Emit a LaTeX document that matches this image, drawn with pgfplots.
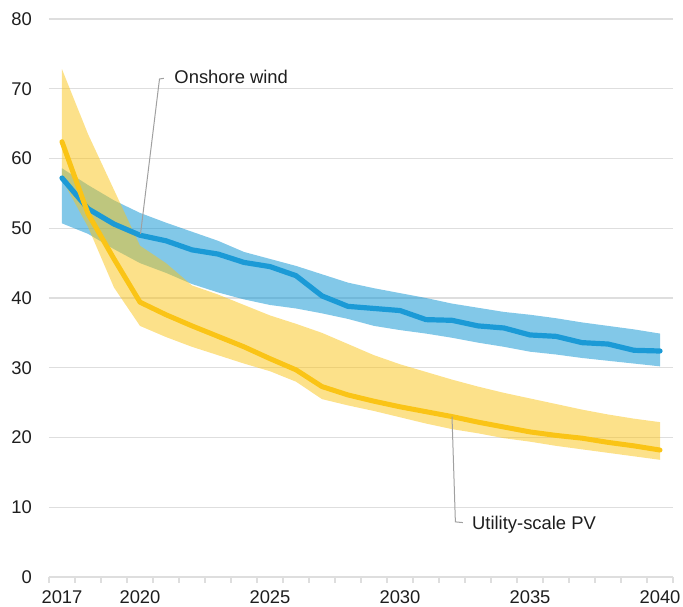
\documentclass[border=0pt]{standalone}
\usepackage{fontspec}
\setmainfont{Liberation Sans}
\usepackage{pgfplots}
\usepackage{pgfplotstable}
\pgfplotsset{compat=1.18}
\usepgfplotslibrary{fillbetween}

\definecolor{windblue}{RGB}{27,154,214}
\definecolor{pvyellow}{RGB}{250,196,22}
\definecolor{gridgray}{RGB}{222,222,222}
\definecolor{pointgray}{RGB}{160,160,160}
\definecolor{txt}{RGB}{30,30,30}

% LCOE ranges, onshore wind and utility-scale PV
\pgfplotstableread{
year wind windlo windhi pv   pvlo pvhi
2017 57.2 50.7   58.6   62.4 57.0 72.8
2018 52.8 49.2   56.2   52.1 50.2 63.5
2019 50.6 47.0   54.0   45.6 41.5 55.5
2020 49.0 45.0   52.2   39.4 36.0 47.5
2021 48.2 43.6   50.8   37.6 34.4 45.0
2022 46.9 42.0   49.5   36.0 33.0 41.8
2023 46.3 40.8   48.2   34.5 31.8 40.5
2024 45.1 39.8   46.6   33.0 30.6 39.0
2025 44.5 39.0   45.6   31.3 29.5 37.5
2026 43.2 38.5   44.6   29.7 28.0 36.3
2027 40.3 37.8   43.4   27.3 25.5 35.0
2028 38.8 37.0   42.2   26.1 24.6 33.4
2029 38.5 36.0   41.4   25.2 23.8 31.8
2030 38.2 35.4   40.7   24.4 22.9 30.5
2031 36.9 34.9   40.0   23.7 22.0 29.4
2032 36.8 34.3   39.2   23.0 21.2 28.3
2033 36.0 33.6   38.6   22.2 20.6 27.3
2034 35.7 33.0   38.0   21.5 19.9 26.4
2035 34.7 32.3   37.6   20.8 19.4 25.6
2036 34.5 31.9   37.1   20.3 18.8 24.8
2037 33.6 31.4   36.5   19.9 18.3 24.0
2038 33.4 31.0   36.0   19.3 17.8 23.3
2039 32.5 30.6   35.5   18.8 17.3 22.7
2040 32.4 30.2   34.9   18.2 16.8 22.2
}\lcoe

\begin{document}
\begin{tikzpicture}
\begin{axis}[
    scale only axis,
    width=312pt, height=279pt,
    xmin=2016.5, xmax=2040.5,
    ymin=0, ymax=80,
    axis x line*=bottom,
    axis y line*=left,
    y axis line style={draw=none},
    x axis line style={draw=gridgray, line width=0.6pt},
    xtick={2017,2020,2025,2030,2035,2040},
    xticklabels={2017,2020,2025,2030,2035,2040},
    minor xtick={2016.5,2017.5,...,2040.5},
    tick align=outside,
    major tick length=0pt,
    minor tick length=3pt,
    minor x tick style={gridgray, line width=0.6pt},
    ytick={0,10,...,80},
    ytick style={draw=none},
    ymajorgrids=true,
    grid style={gridgray, line width=0.6pt},
    tick label style={font=\fontsize{9.2}{11}\selectfont, text=txt},
    /pgf/number format/assume math mode=true,
    xticklabel style={yshift=-3.3pt},
    yticklabel style={xshift=-5pt},
]

% ranges
\addplot[draw=none, name path=whi] table[x=year, y=windhi] {\lcoe};
\addplot[draw=none, name path=wlo] table[x=year, y=windlo] {\lcoe};
\addplot[fill=windblue, fill opacity=0.55, draw=none] fill between[of=whi and wlo];

\addplot[draw=none, name path=phi] table[x=year, y=pvhi] {\lcoe};
\addplot[draw=none, name path=plo] table[x=year, y=pvlo] {\lcoe};
\addplot[fill=pvyellow, fill opacity=0.5, draw=none] fill between[of=phi and plo];

% central estimates
\addplot[windblue, line width=2.6pt, line join=round, line cap=round] table[x=year, y=wind] {\lcoe};
\addplot[pvyellow, line width=2.5pt, line join=round, line cap=round] table[x=year, y=pv] {\lcoe};

% labels
\draw[pointgray, line width=0.5pt] (axis cs:2020.92,71.5) -- (axis cs:2020.75,71.4) -- (axis cs:2020.02,49.2);
\node[anchor=west, inner sep=0pt, text=txt, font=\fontsize{9.2}{11}\selectfont] at (axis cs:2021.31,71.7) {Onshore wind};
\draw[pointgray, line width=0.5pt] (axis cs:2032.0,23.0) -- (axis cs:2032.13,7.9) -- (axis cs:2032.42,7.8);
\node[anchor=west, inner sep=0pt, text=txt, font=\fontsize{9.2}{11}\selectfont] at (axis cs:2032.76,7.5) {Utility-scale PV};
\end{axis}
\pgfresetboundingbox
\path[use as bounding box] ([xshift=-24.5pt,yshift=-15pt]current axis.south west) rectangle ([xshift=5pt,yshift=9.5pt]current axis.north east);
\end{tikzpicture}
\end{document}
